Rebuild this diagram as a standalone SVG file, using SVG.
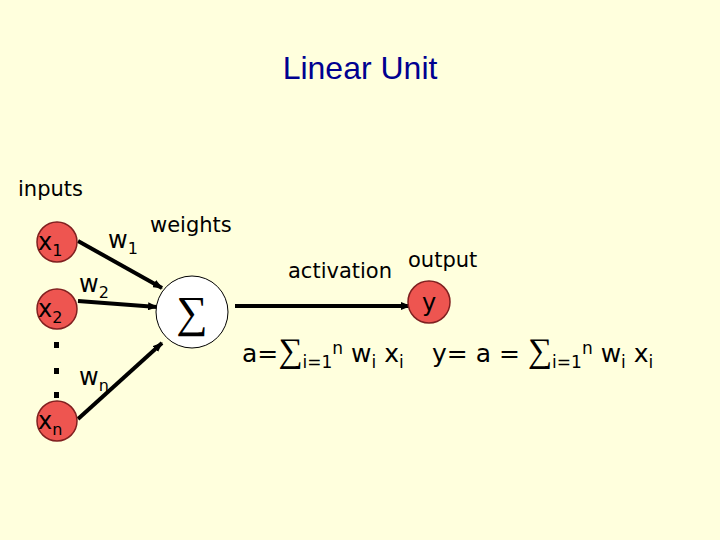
<svg xmlns="http://www.w3.org/2000/svg" width="720" height="540" viewBox="0 0 720 540">
<defs><marker id="ah" markerWidth="10" markerHeight="8" refX="9" refY="4" orient="auto" markerUnits="userSpaceOnUse"><path d="M0,0 L10,4 L0,8 z" fill="#000"/></marker></defs>
<style>
.t{font-family:Verdana,"DejaVu Sans",sans-serif;fill:#000}
.n{fill:#ee5550;stroke:#802020;stroke-width:1.5}
.c{stroke:#000;stroke-width:4;fill:none;marker-end:url(#ah)}
</style>
<rect width="720" height="540" fill="#ffffdd"/>
<text x="360" y="79" text-anchor="middle" font-family="Liberation Sans,Arial,sans-serif" font-size="32" fill="#000090">Linear Unit</text>
<text class="t" x="18" y="196" font-size="21">inputs</text>
<text class="t" x="150" y="232" font-size="21">weights</text>
<text class="t" x="288" y="278" font-size="21">activation</text>
<text class="t" x="408" y="267" font-size="21">output</text>
<g id="connectors">
<line class="c" x1="78" y1="241" x2="162" y2="288"/>
<line class="c" x1="78" y1="301" x2="157" y2="307"/>
<line class="c" x1="78" y1="419" x2="162" y2="343"/>
<line class="c" x1="235" y1="306" x2="410" y2="306"/>
</g>
<g id="x1"><circle class="n" cx="57" cy="242" r="20"/><text class="t" x="38" y="250" font-size="24">x<tspan font-size="16" dy="6">1</tspan></text></g>
<g id="x2"><circle class="n" cx="57" cy="309" r="20"/><text class="t" x="38" y="317" font-size="24">x<tspan font-size="16" dy="6">2</tspan></text></g>
<g id="xn"><circle class="n" cx="57" cy="421" r="20"/><text class="t" x="38" y="429" font-size="24">x<tspan font-size="16" dy="6">n</tspan></text></g>
<g id="dots" fill="#000"><rect x="54" y="342" width="5" height="6"/><rect x="54" y="368" width="5" height="6"/><rect x="54" y="392" width="5" height="6"/></g>
<text class="t" x="108" y="248" font-size="24">w<tspan font-size="16" dy="6">1</tspan></text>
<text class="t" x="79" y="292" font-size="24">w<tspan font-size="16" dy="6">2</tspan></text>
<text class="t" x="79" y="385" font-size="24">w<tspan font-size="16" dy="6">n</tspan></text>
<g id="sum"><circle cx="192" cy="312" r="36" fill="#fff" stroke="#000" stroke-width="1"/><text x="192" y="327" text-anchor="middle" font-family="Liberation Serif,serif" font-size="44">∑</text></g>
<g id="y"><circle class="n" cx="429" cy="302" r="21"/><text class="t" x="429" y="311" text-anchor="middle" font-size="24">y</text></g>
<text class="t" x="242" y="362" font-size="25">a=<tspan font-family="Liberation Serif,serif" font-size="34">∑</tspan><tspan font-size="17" dy="6">i=1</tspan><tspan font-size="17" dy="-14">n</tspan><tspan dy="8"> w</tspan><tspan font-size="17" dy="6">i</tspan><tspan dy="-6"> x</tspan><tspan font-size="17" dy="6">i</tspan></text>
<text class="t" x="432" y="362" font-size="25">y= a = <tspan font-family="Liberation Serif,serif" font-size="34">∑</tspan><tspan font-size="17" dy="6">i=1</tspan><tspan font-size="17" dy="-14">n</tspan><tspan dy="8"> w</tspan><tspan font-size="17" dy="6">i</tspan><tspan dy="-6"> x</tspan><tspan font-size="17" dy="6">i</tspan></text>
</svg>
